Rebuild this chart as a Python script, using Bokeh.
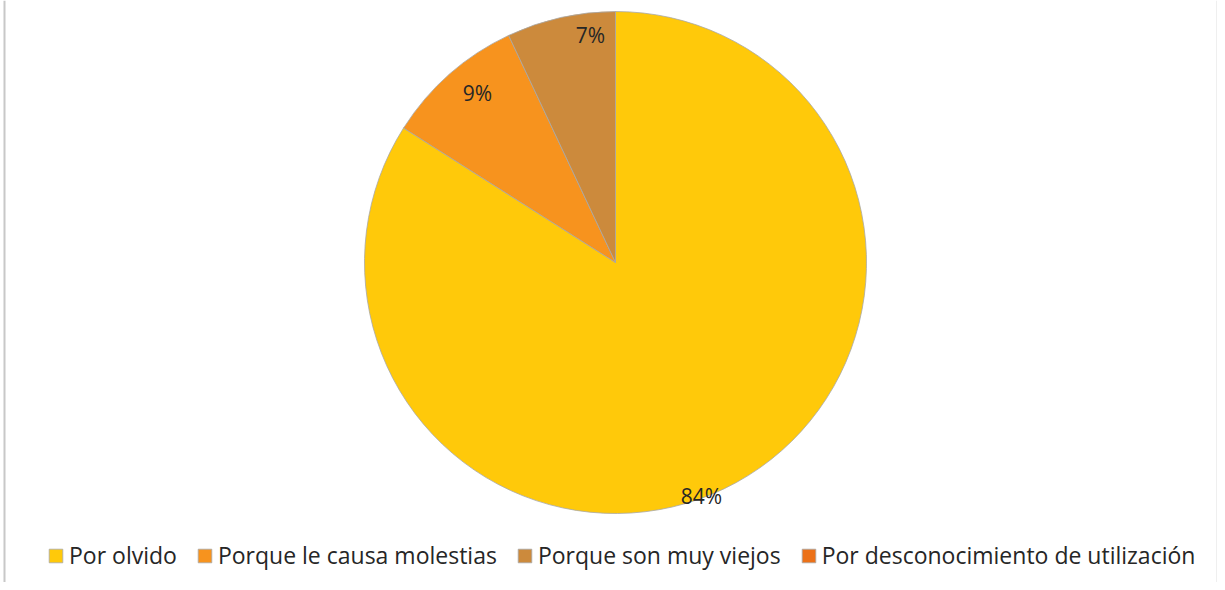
import math
from bokeh.plotting import figure
from bokeh.models import ColumnDataSource, Legend, LegendItem, Span
from bokeh.core.properties import value
from bokeh.embed import file_html
from bokeh.resources import INLINE

categories = ["Por olvido", "Porque le causa molestias", "Porque son muy viejos",
              "Por desconocimiento de utilización"]
percentages = [84, 9, 7, 0]
labels = ["84%", "9%", "7%", ""]
colors = ["#FFC90A", "#F7931E", "#CC8A3C", "#EC7118"]

W, H = 1217, 582
CX, CY, R = 615, 320, 251
FONT = "Open Sans"

# angles: start at 12 o'clock, go clockwise
total = sum(percentages)
starts, ends, mids = [], [], []
a = math.pi / 2
for v in percentages:
    span = 2 * math.pi * v / total
    starts.append(a)
    ends.append(a - span)
    mids.append(a - span / 2)
    a -= span
radii = [R if v > 0 else 0 for v in percentages]

label_r_frac = [0.99, 0.87, 0.91, 0.0]
label_ang_shift = [-0.15, -0.038, -0.11, 0.0]
lx = [CX + R * f * math.cos(m + s) for m, f, s in zip(mids, label_r_frac, label_ang_shift)]
ly = [CY + R * f * math.sin(m + s) for m, f, s in zip(mids, label_r_frac, label_ang_shift)]

src = ColumnDataSource(dict(cat=categories, start=starts, end=ends, color=colors,
                            x=[CX] * 4, y=[CY] * 4, r=radii))
lsrc = ColumnDataSource(dict(x=lx, y=ly, text=labels))

p = figure(width=W, height=H, x_range=(0, W), y_range=(0, H),
           output_backend="svg", toolbar_location=None, min_border=0)
p.axis.visible = False
p.grid.visible = False
p.outline_line_color = None
p.background_fill_color = "white"

r = p.wedge(x="x", y="y", radius="r", start_angle="end", end_angle="start",
            fill_color="color", line_color="#a8a8a8", line_width=0.8, source=src)

p.text(x="x", y="y", text="text", source=lsrc, text_font=value(FONT),
       text_font_size="21px", text_color="#262626", text_align="center",
       text_baseline="middle")

items = [LegendItem(label=c, renderers=[r], index=i) for i, c in enumerate(categories)]
legend = Legend(items=items, orientation="horizontal", location=(47, 11),
                glyph_width=17, glyph_height=17, label_standoff=5, spacing=19,
                padding=0, margin=0, border_line_color=None, background_fill_alpha=0,
                label_text_font=FONT, label_text_font_size="23px",
                label_text_color="#262626", label_height=17)
p.add_layout(legend)

p.add_layout(Span(location=4, dimension="height", line_color="#c8c8c8", line_width=2))
p.add_layout(Span(location=W, dimension="height", line_color="#e0e0e0", line_width=2))

open("out.html", "w").write(file_html(p, INLINE))
